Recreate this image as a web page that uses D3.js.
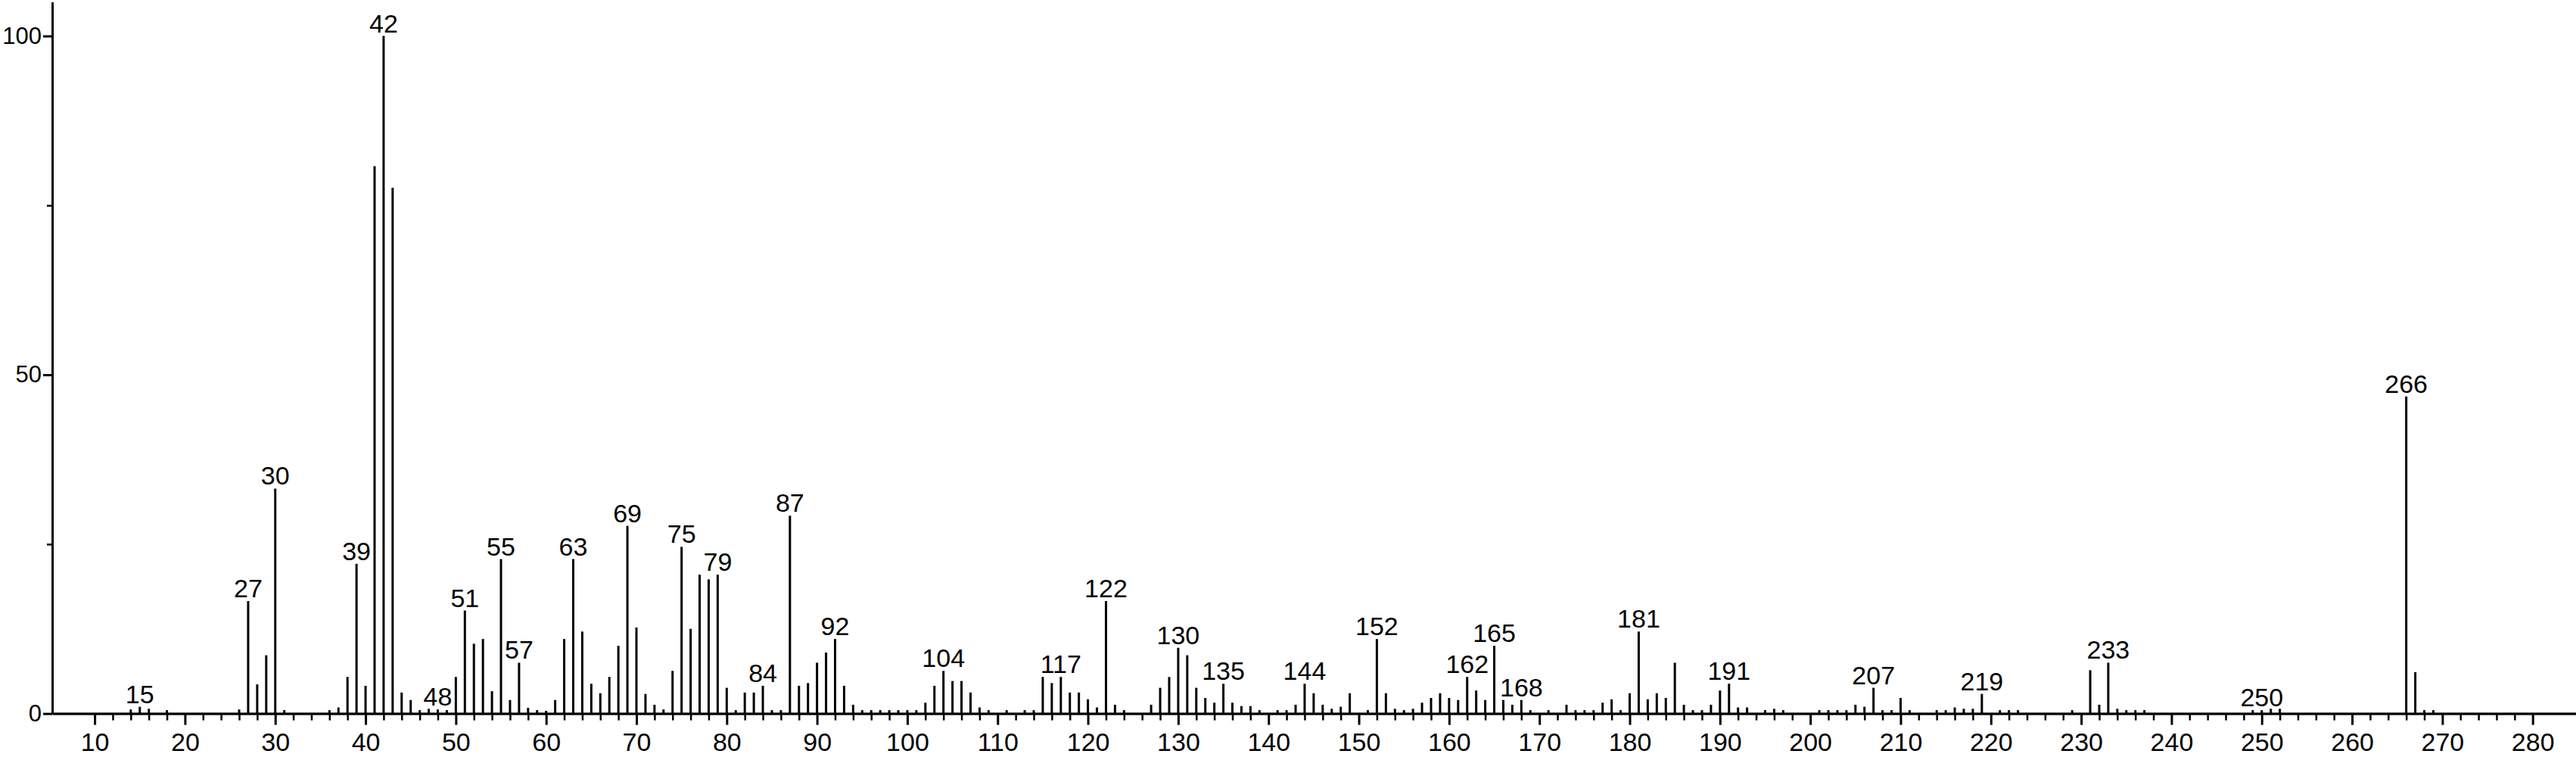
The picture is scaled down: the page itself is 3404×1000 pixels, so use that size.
<!DOCTYPE html>
<html>
<head>
<meta charset="utf-8">
<script src="https://cdn.jsdelivr.net/npm/d3@7"></script>
<style>
  body { margin: 0; background: #fff; }
  text { font-family: "Liberation Sans", Arial, sans-serif; fill: #000; }
</style>
</head>
<body>
<div id="chart"></div>
<script>
// m/z values and relative intensities
const mz = [14,15,16,18,26,27,28,29,30,31,36,37,38,39,40,41,42,43,44,45,46,47,48,49,
  50,51,52,53,54,55,56,57,58,59,60,61,62,63,64,65,66,67,68,69,70,71,72,73,74,75,76,77,78,79,
  80,81,82,83,84,85,86,87,88,89,90,91,92,93,94,95,96,97,98,99,100,101,102,103,104,105,106,107,108,109,
  111,113,114,115,116,117,118,119,120,121,122,123,124,127,128,129,130,131,132,133,134,135,136,137,138,139,
  141,142,143,144,145,146,147,148,149,151,152,153,154,155,156,157,158,159,160,161,162,163,164,165,166,167,168,169,
  171,173,174,175,176,177,178,179,180,181,182,183,184,185,186,187,188,189,190,191,192,193,195,196,197,
  201,202,203,204,205,206,207,208,209,210,211,214,215,216,217,218,219,221,222,223,229,231,232,233,234,235,236,237,
  249,250,251,252,266,267,268,269];
const intensity = [0.6,1.0,0.7,0.5,0.6,16.6,4.3,8.6,33.2,0.5,0.5,0.9,5.4,22.1,4.1,80.8,100,77.6,3.1,2.0,0.5,0.7,0.6,0.5,
  5.4,15.2,10.3,11.0,3.3,22.8,2.0,7.5,0.85,0.5,0.4,2.0,11.0,22.8,12.1,4.4,3.0,5.4,10.0,27.7,12.7,2.9,1.3,0.6,6.3,24.6,12.5,20.5,19.8,20.5,
  3.8,0.5,3.1,3.1,4.1,0.5,0.5,29.2,4.1,4.5,7.5,9.0,11.0,4.1,1.3,0.5,0.5,0.5,0.5,0.5,0.5,0.5,1.6,4.1,6.3,4.8,4.8,3.1,0.9,0.5,
  0.5,0.5,0.5,5.4,4.5,5.4,3.1,3.1,2.1,0.9,16.6,1.3,0.5,1.3,3.8,5.4,9.7,8.6,3.8,2.3,1.6,4.4,1.6,1.1,1.1,0.5,
  0.5,0.5,1.3,4.4,3.0,1.3,0.7,1.0,3.0,0.5,11.0,3.0,0.7,0.5,0.7,1.6,2.3,3.0,2.3,2.0,5.4,3.4,2.0,10.0,2.0,1.3,2.0,0.5,
  0.5,1.3,0.5,0.5,0.5,1.6,2.1,0.5,3.0,12.1,2.1,3.0,2.3,7.5,1.3,0.5,0.5,1.3,3.4,4.4,0.9,0.9,0.5,0.7,0.5,
  0.5,0.5,0.5,0.5,1.3,1.0,3.8,0.5,0.5,2.3,0.5,0.5,0.5,0.9,0.7,0.7,2.9,0.5,0.5,0.5,0.5,6.4,1.3,7.5,0.7,0.5,0.5,0.5,
  0.5,0.5,0.7,0.7,46.8,6.1,0.5,0.5];
// peaks that carry a m/z label
const labelled = [15,27,30,39,42,48,51,55,57,63,69,75,79,84,87,92,104,117,122,130,135,144,
  152,162,165,168,181,191,207,219,233,250,266];
const xMajorTicks = d3.range(10, 281, 10);
const xMinorTicks = d3.range(12, 280, 2).filter(v => v % 10 !== 0);
const yMajorTicks = [0, 50, 100];
const yMinorTicks = [25, 75];

const W = 3404, H = 1000;
const fontSize = 34;
const svg = d3.select("#chart").append("svg")
  .attr("width", W).attr("height", H);

const x = d3.scaleLinear().domain([5.3, 284.8]).range([69, 3404]);
const y = d3.scaleLinear().domain([0, 105]).range([942.6, 2.8]);

const peaks = mz.map((m, i) => ({mz: m, v: intensity[i]}));

// peaks
svg.append("g").selectAll("line")
  .data(peaks)
  .join("line")
  .attr("x1", d => x(d.mz)).attr("x2", d => x(d.mz))
  .attr("y1", y(0)).attr("y2", d => y(d.v))
  .attr("stroke", "#000").attr("stroke-width", 3);

// peak labels
svg.append("g").selectAll("text")
  .data(peaks.filter(d => labelled.includes(d.mz)))
  .join("text")
  .attr("x", d => x(d.mz))
  .attr("y", d => y(d.v) - 5)
  .attr("text-anchor", "middle")
  .attr("font-size", fontSize)
  .text(d => d.mz);

// x axis: minor then major
svg.append("g")
  .attr("transform", `translate(0,${y(0)})`)
  .call(d3.axisBottom(x).tickValues(xMinorTicks).tickSize(9).tickSizeOuter(0).tickFormat(""))
  .call(g => g.selectAll("line,path").attr("stroke-width", 2.5));
svg.append("g")
  .attr("transform", `translate(0,${y(0)})`)
  .call(d3.axisBottom(x).tickValues(xMajorTicks).tickSize(15).tickSizeOuter(0).tickPadding(10))
  .call(g => g.selectAll("line,path").attr("stroke-width", 3))
  .call(g => g.selectAll("text").attr("font-size", fontSize).attr("font-family", "Liberation Sans, Arial, sans-serif"));

// y axis
svg.append("g")
  .attr("transform", `translate(${x(5.3)},0)`)
  .call(d3.axisLeft(y).tickValues(yMinorTicks).tickSize(7).tickSizeOuter(0).tickFormat(""))
  .call(g => g.selectAll("line,path").attr("stroke-width", 2.5));
svg.append("g")
  .attr("transform", `translate(${x(5.3)},0)`)
  .call(d3.axisLeft(y).tickValues(yMajorTicks).tickSize(12).tickSizeOuter(0).tickPadding(2))
  .call(g => g.selectAll("line,path").attr("stroke-width", 3))
  .call(g => g.selectAll("text").attr("font-size", 31).attr("font-family", "Liberation Sans, Arial, sans-serif"));
</script>
</body>
</html>
